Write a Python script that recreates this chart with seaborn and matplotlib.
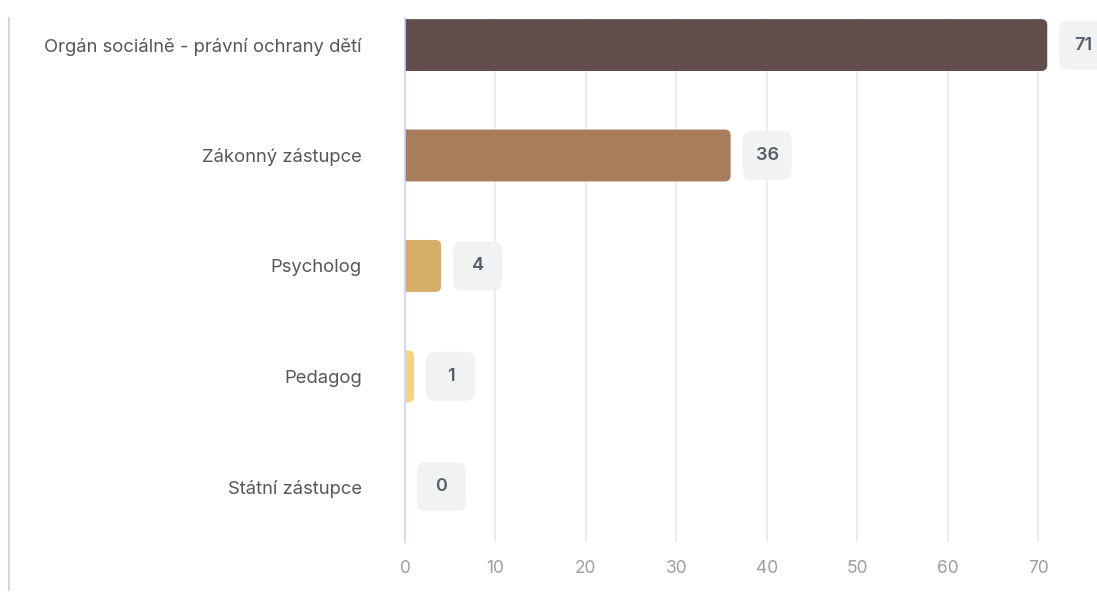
import matplotlib
matplotlib.use("Agg")
import matplotlib.pyplot as plt
import seaborn as sns
import pandas as pd
from matplotlib.patches import FancyBboxPatch
from matplotlib.lines import Line2D

categories = ["Orgán sociálně - právní ochrany dětí", "Zákonný zástupce", "Psycholog", "Pedagog", "Státní zástupce"]
values = [71, 36, 4, 1, 0]
colors = ["#624f4d", "#a87d5c", "#d6ad66", "#f5d383", "#f5d383"]
xticks = [0, 10, 20, 30, 40, 50, 60, 70]

sns.set_theme(style="white")
plt.rcParams['font.family'] = ['Inter', 'DejaVu Sans']

W, H = 1097, 592
fig = plt.figure(figsize=(W / 100, H / 100), dpi=100)
ax_left, ax_right, ax_top, ax_bot = 405, 1097, 18, 542
ax = fig.add_axes([ax_left / W, 1 - ax_bot / H, (ax_right - ax_left) / W, (ax_bot - ax_top) / H])

df = pd.DataFrame({"cat": categories, "val": values})
sns.barplot(data=df, x="val", y="cat", hue="cat", palette=colors, legend=False,
            width=0.47, ax=ax, saturation=1)

xmax = 76.5
ax.set_xlim(0, xmax)
ax.set_ylim(4.5, -0.245)

# pixel/data conversions
px_per_x = (ax_right - ax_left) / xmax
px_per_y = (ax_bot - ax_top) / (4.5 + 0.245)

# replace bars with rounded ones
r_px = 6
for p in list(ax.patches):
    x, y = p.get_x(), p.get_y()
    w, h = p.get_width(), p.get_height()
    fc = p.get_facecolor()
    p.remove()
    if w <= 0:
        continue
    r = r_px / px_per_x
    fb = FancyBboxPatch((x - r, y), w + r, h,
                        boxstyle=f"round,pad=0,rounding_size={r}",
                        mutation_aspect=px_per_x / px_per_y,
                        facecolor=fc, edgecolor="none", zorder=3)
    ax.add_patch(fb)

# value boxes
gap_px, bw_px, bh_px = 12, 49, 49
for i, v in enumerate(values):
    x0 = v + gap_px / px_per_x
    bw = bw_px / px_per_x
    bh = bh_px / px_per_y
    r = 9 / px_per_x
    box = FancyBboxPatch((x0, i - bh / 2), bw, bh,
                         boxstyle=f"round,pad=0,rounding_size={r}",
                         mutation_aspect=px_per_x / px_per_y,
                         facecolor="#f1f2f2", edgecolor="none", zorder=4, clip_on=False)
    ax.add_patch(box)
    ax.text(x0 + bw / 2, i, str(v), ha="center", va="center", fontsize=13,
            fontweight="semibold", color="#555e6b", zorder=5, clip_on=False)

ax.set_xticks(xticks)
ax.set_xlabel("")
ax.set_ylabel("")
ax.grid(axis="x", color="#e8e9ec", linewidth=1.2, zorder=0)
ax.grid(axis="y", visible=False)
ax.set_axisbelow(True)
for s in ["top", "right", "bottom"]:
    ax.spines[s].set_visible(False)
ax.spines["left"].set_color("#c7d2fe")
ax.spines["left"].set_linewidth(1.2)
ax.spines["left"].set_zorder(6)
ax.tick_params(axis="x", length=0, pad=13, labelsize=12.5, labelcolor="#9a9ea5")
ax.tick_params(axis="y", length=0, pad=31, labelsize=13.3, labelcolor="#55575c")

fig.add_artist(Line2D([9 / W, 9 / W], [1 - 18 / H, 1 - 590 / H], transform=fig.transFigure,
                      color="#cdd6e6", linewidth=1.5))

fig.savefig("out.png", dpi=100)
